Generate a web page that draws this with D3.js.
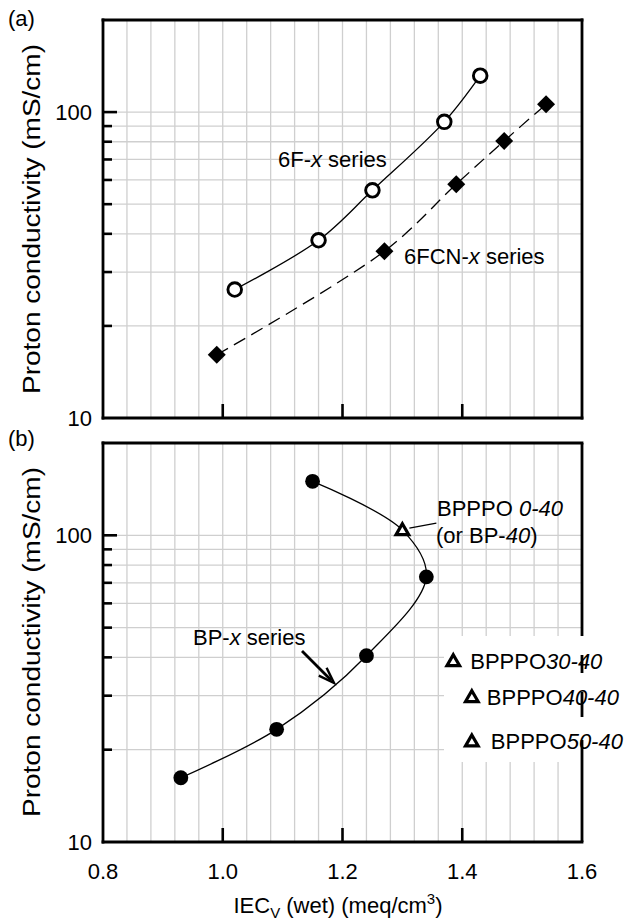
<!DOCTYPE html>
<html>
<head>
<meta charset="utf-8">
<script src="https://cdn.jsdelivr.net/npm/d3@7"></script>
<style>
  html, body { margin: 0; padding: 0; background: #fff; }
  svg { display: block; font-family: "Liberation Sans", Arial, Helvetica, sans-serif; }
</style>
</head>
<body>
<svg id="chart" width="626" height="920"></svg>
<script>
// ---------- data ----------
const iecTicks = [0.8, 1.0, 1.2, 1.4, 1.6];
const iecGrid = d3.range(1, 20).map(i => 0.8 + i * 0.04);
const sigmaMajor = [10, 100];
const sigmaMinor = [20, 30, 40, 50, 60, 70, 80, 90];

// (a) 6F-x series (open circles, solid line)
const f6IEC   = [1.02, 1.16, 1.25, 1.37, 1.43];
const f6Sigma = [26.3, 38.1, 55.5, 92.9, 131.5];
// (a) 6FCN-x series (filled diamonds, dashed line)
const fcnIEC   = [0.99, 1.27, 1.39, 1.47, 1.54];
const fcnSigma = [16.1, 35.1, 58.1, 80.5, 106];
// (b) BP-x series (filled circles) incl. BP-40 (= BPPPO0-40, open triangle)
const bpIEC    = [1.15, 1.30, 1.34, 1.24, 1.09, 0.93];
const bpSigma  = [150, 104, 73.2, 40.5, 23.3, 16.2];
const bpMarker = ["circle", "triangle", "circle", "circle", "circle", "circle"];
// (b) BPPPO copolymers (open triangles)
const bpppoName  = ["30-40", "40-40", "50-40"];
const bpppoIEC   = [1.385, 1.416, 1.416];
const bpppoSigma = [38.9, 29.7, 21.3];

// ---------- layout ----------
const svg = d3.select("#chart");
const FS = 22;
const x = d3.scaleLinear().domain([0.8, 1.6]).range([103, 582]);
const yA = d3.scaleLog().domain([10, 200]).range([418, 20]);
const yB = d3.scaleLog().domain([10, 200]).range([842, 443]);

function drawGrid(g, y) {
  const [y0, y1] = y.range();
  g.selectAll("line.vg").data(iecGrid).join("line")
    .attr("x1", d => x(d)).attr("x2", d => x(d))
    .attr("y1", y1).attr("y2", y0)
    .attr("stroke", "#cfcfcf").attr("stroke-width", 1.3);
  g.selectAll("line.hg").data(sigmaMinor.concat([100])).join("line")
    .attr("x1", x.range()[0]).attr("x2", x.range()[1])
    .attr("y1", d => y(d)).attr("y2", d => y(d))
    .attr("stroke", "#cfcfcf").attr("stroke-width", 1.3);
}

function drawAxes(g, y, rightSegments) {
  const [xl, xr] = x.range();
  const [yb, yt] = y.range();
  const frame = g.append("g").attr("stroke", "#000").attr("stroke-width", 2.8).attr("stroke-linecap", "square");
  frame.append("line").attr("x1", xl).attr("x2", xr).attr("y1", yt).attr("y2", yt);
  frame.append("line").attr("x1", xl).attr("x2", xr).attr("y1", yb).attr("y2", yb);
  frame.append("line").attr("x1", xl).attr("x2", xl).attr("y1", yt).attr("y2", yb);
  if (rightSegments) {
    rightSegments.forEach(s => frame.append("line").attr("stroke-linecap", "butt")
      .attr("x1", xr).attr("x2", xr).attr("y1", s[0]).attr("y2", s[1]));
  } else {
    frame.append("line").attr("x1", xr).attr("x2", xr).attr("y1", yt).attr("y2", yb);
  }
  // y ticks (inward)
  const ticks = g.append("g").attr("stroke", "#000").attr("stroke-width", 2.6);
  ticks.selectAll("line.maj").data([100]).join("line")
    .attr("x1", xl).attr("x2", xl + 14).attr("y1", d => y(d)).attr("y2", d => y(d));
  ticks.selectAll("line.min").data(sigmaMinor).join("line")
    .attr("x1", xl).attr("x2", xl + 9).attr("y1", d => y(d)).attr("y2", d => y(d));
  // x ticks (inward, bottom)
  ticks.selectAll("line.xt").data(iecTicks.slice(1, -1)).join("line")
    .attr("x1", d => x(d)).attr("x2", d => x(d)).attr("y1", yb).attr("y2", yb - 14);
  // y tick labels
  g.selectAll("text.yl").data(sigmaMajor).join("text")
    .attr("x", xl - 11).attr("y", d => y(d)).attr("dy", "0.36em")
    .attr("text-anchor", "end").attr("font-size", FS).text(d => d);
}

function ytitle(cy) {
  svg.append("text")
    .attr("transform", `translate(40,${cy}) rotate(-90)`)
    .attr("text-anchor", "middle").attr("font-size", FS + 1)
    .attr("textLength", 350).attr("lengthAdjust", "spacingAndGlyphs")
    .text("Proton conductivity (mS/cm)");
}

const diamond = s => `M0,${-s}L${s},0L0,${s}L${-s},0Z`;
const triangle = s => `M0,${-s}L${s * 1.0},${s * 0.72}L${-s * 1.0},${s * 0.72}Z`;

// ================= panel (a) =================
const gA = svg.append("g");
drawGrid(gA, yA);

const lineA = d3.line().x(d => x(d[0])).y(d => yA(d[1])).curve(d3.curveCatmullRom.alpha(0.5));
const f6 = f6IEC.map((v, i) => [v, f6Sigma[i]]);
const fcn = fcnIEC.map((v, i) => [v, fcnSigma[i]]);

gA.append("path").attr("d", lineA(f6)).attr("fill", "none").attr("stroke", "#000").attr("stroke-width", 1.3);
gA.append("path").attr("d", lineA(fcn)).attr("fill", "none").attr("stroke", "#000").attr("stroke-width", 1.3)
  .attr("stroke-dasharray", "13,7");

gA.selectAll("circle.f6").data(f6).join("circle")
  .attr("cx", d => x(d[0])).attr("cy", d => yA(d[1])).attr("r", 6.8)
  .attr("fill", "#fff").attr("stroke", "#000").attr("stroke-width", 2.9);
gA.selectAll("path.fcn").data(fcn).join("path")
  .attr("transform", d => `translate(${x(d[0])},${yA(d[1])})`)
  .attr("d", diamond(9)).attr("fill", "#000");

drawAxes(gA, yA);

// labels
const lab1 = svg.append("text").attr("x", 278).attr("y", 167).attr("font-size", FS);
lab1.append("tspan").text("6F-");
lab1.append("tspan").attr("font-style", "italic").text("x");
lab1.append("tspan").text(" series");
const lab2 = svg.append("text").attr("x", 404).attr("y", 264).attr("font-size", FS);
lab2.append("tspan").text("6FCN-");
lab2.append("tspan").attr("font-style", "italic").text("x");
lab2.append("tspan").text(" series");

svg.append("text").attr("x", 8).attr("y", 26).attr("font-size", FS).text("(a)");
ytitle(219);

// ================= panel (b) =================
const gB = svg.append("g");
drawGrid(gB, yB);

// white area behind the BPPPO labels
gB.append("rect").attr("x", 444).attr("y", 636).attr("width", 182).attr("height", 126).attr("fill", "#fff");

const lineB = d3.line().x(d => x(d[0])).y(d => yB(d[1])).curve(d3.curveCatmullRom.alpha(0.5));
const bp = bpIEC.map((v, i) => [v, bpSigma[i], bpMarker[i]]);
gB.append("path").attr("d", lineB(bp)).attr("fill", "none").attr("stroke", "#000").attr("stroke-width", 1.3);

gB.selectAll("circle.bp").data(bp.filter(d => d[2] === "circle")).join("circle")
  .attr("cx", d => x(d[0])).attr("cy", d => yB(d[1])).attr("r", 7.4).attr("fill", "#000");
gB.selectAll("path.bpt").data(bp.filter(d => d[2] === "triangle")).join("path")
  .attr("transform", d => `translate(${x(d[0])},${yB(d[1])})`)
  .attr("d", triangle(6.3)).attr("fill", "#fff").attr("stroke", "#000").attr("stroke-width", 3.2)
  .attr("stroke-linejoin", "miter");

const bpppo = bpppoIEC.map((v, i) => [v, bpppoSigma[i], bpppoName[i]]);
gB.selectAll("path.tri").data(bpppo).join("path")
  .attr("transform", d => `translate(${x(d[0])},${yB(d[1])})`)
  .attr("d", triangle(6.3)).attr("fill", "#fff").attr("stroke", "#000").attr("stroke-width", 3.2);
const labOff = [17, 15, 19];
bpppo.forEach((d, i) => {
  const t = gB.append("text").attr("x", x(d[0]) + labOff[i]).attr("y", yB(d[1]))
    .attr("dy", "0.36em").attr("font-size", FS);
  t.append("tspan").text("BPPPO");
  t.append("tspan").attr("font-style", "italic").text(d[2]);
});

drawAxes(gB, yB, [[443, 636], [655, 673], [692, 717], [740, 842]]);

// BPPPO 0-40 annotation
const tri0 = bp.find(d => d[2] === "triangle");
const tx = x(tri0[0]), ty = yB(tri0[1]);
gB.append("line").attr("x1", tx + 7).attr("y1", ty - 2).attr("x2", tx + 34).attr("y2", ty - 7)
  .attr("stroke", "#000").attr("stroke-width", 1.2);
const a1 = gB.append("text").attr("x", 437).attr("y", 516).attr("font-size", FS);
a1.append("tspan").text("BPPPO ");
a1.append("tspan").attr("font-style", "italic").text("0-40");
const a2 = gB.append("text").attr("x", 436).attr("y", 543).attr("font-size", FS);
a2.append("tspan").text("(or BP-");
a2.append("tspan").attr("font-style", "italic").text("40");
a2.append("tspan").text(")");

// BP-x series label + arrow
const a3 = gB.append("text").attr("x", 193).attr("y", 645).attr("font-size", FS);
a3.append("tspan").text("BP-");
a3.append("tspan").attr("font-style", "italic").text("x");
a3.append("tspan").text(" series");
{
  const x0 = 302, y0 = 651, x1 = 334, y1 = 683;
  const dx = x1 - x0, dy = y1 - y0, L = Math.hypot(dx, dy);
  const ux = dx / L, uy = dy / L, px = -uy, py = ux;
  const hl = 16, hw = 5.5;
  gB.append("line").attr("x1", x0).attr("y1", y0).attr("x2", x1 - ux * 4).attr("y2", y1 - uy * 4)
    .attr("stroke", "#000").attr("stroke-width", 2.8);
  gB.append("path")
    .attr("d", `M${x1 - ux * hl + px * hw},${y1 - uy * hl + py * hw}L${x1},${y1}L${x1 - ux * hl - px * hw},${y1 - uy * hl - py * hw}`)
    .attr("fill", "none").attr("stroke", "#000").attr("stroke-width", 2.4);
}

svg.append("text").attr("x", 8).attr("y", 446).attr("font-size", FS).text("(b)");
ytitle(642);

// x tick labels
svg.selectAll("text.xl").data(iecTicks).join("text")
  .attr("x", d => x(d)).attr("y", 879).attr("text-anchor", "middle").attr("font-size", FS)
  .text(d => d.toFixed(1));

// x title
const xt = svg.append("text").attr("x", 338).attr("y", 913).attr("text-anchor", "middle").attr("font-size", FS);
xt.append("tspan").text("IEC");
xt.append("tspan").attr("font-size", 15).attr("dy", 5).text("V");
xt.append("tspan").attr("dy", -5).text(" (wet) (meq/cm");
xt.append("tspan").attr("font-size", 15).attr("dy", -9).text("3");
xt.append("tspan").attr("dy", 9).text(")");
</script>
</body>
</html>
